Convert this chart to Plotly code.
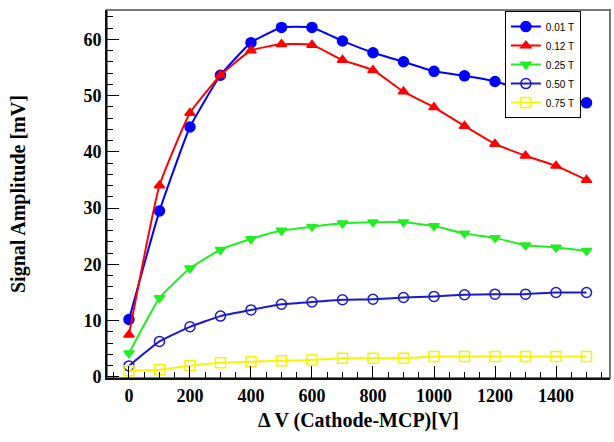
import plotly.graph_objects as go

voltage = [0, 100, 200, 300, 400, 500, 600, 700, 800, 900, 1000, 1100, 1200, 1300, 1400, 1500]
amp_001T = [10.2, 29.5, 44.4, 53.6, 59.4, 62.1, 62.1, 59.7, 57.6, 56.0, 54.3, 53.5, 52.5, 50.9, 49.5, 48.7]
amp_012T = [7.5, 34.0, 46.9, 53.6, 58.0, 59.1, 59.0, 56.3, 54.5, 50.7, 47.9, 44.6, 41.4, 39.3, 37.5, 35.0]
amp_025T = [4.2, 14.0, 19.3, 22.6, 24.5, 26.0, 26.7, 27.3, 27.5, 27.5, 26.8, 25.5, 24.7, 23.4, 23.0, 22.4]
amp_050T = [1.95, 6.3, 8.9, 10.8, 11.9, 12.9, 13.3, 13.7, 13.8, 14.1, 14.3, 14.6, 14.7, 14.7, 15.0, 15.0]
amp_075T = [1.1, 1.25, 2.0, 2.5, 2.7, 2.85, 3.0, 3.3, 3.3, 3.3, 3.6, 3.6, 3.6, 3.6, 3.6, 3.6]

series_names = ["0.01 T", "0.12 T", "0.25 T", "0.50 T", "0.75 T"]
series_values = [amp_001T, amp_012T, amp_025T, amp_050T, amp_075T]
series_colors = ["#0000ff", "#ff0000", "#22ee22", "#1a1acc", "#f5f500"]
series_symbols = ["circle", "triangle-up", "triangle-down", "circle-open", "square-open"]
series_sizes = [10, 9, 9, 10, 10]

fig = go.Figure()
for name, vals, col, sym, sz in zip(series_names, series_values, series_colors, series_symbols, series_sizes):
    fig.add_trace(go.Scatter(
        x=voltage, y=vals, name=name, mode="lines+markers",
        line=dict(color=col, width=2, shape="spline", smoothing=0.4),
        marker=dict(symbol=sym, size=sz, color=col, line=dict(color=col, width=1.5)),
    ))

tick_font = dict(family="Liberation Serif", size=18, color="black")

fig.update_layout(
    template="simple_white",
    width=614, height=442,
    margin=dict(l=107, r=4, t=10, b=64, pad=0, autoexpand=False),
    paper_bgcolor="white", plot_bgcolor="white",
    font=dict(family="Liberation Serif", color="black"),
    showlegend=True,
    legend=dict(
        x=0.791, y=0.997, xanchor="left", yanchor="top",
        bordercolor="black", borderwidth=1, bgcolor="white",
        font=dict(family="Liberation Sans", size=10, color="black"),
        tracegroupgap=0, itemwidth=30,
    ),
    xaxis=dict(
        automargin=False,
        range=[-72, 1577], tick0=0, dtick=200,
        ticks="inside", ticklen=12, tickwidth=1.2, tickcolor="black",
        minor=dict(dtick=50, ticks="inside", ticklen=6, tickwidth=1, tickcolor="black"),
        showline=True, linecolor="#111", linewidth=2, mirror=False,
        showgrid=False, zeroline=False,
        tickfont=tick_font, tickprefix="<b>", ticksuffix="</b>",
    ),
    yaxis=dict(
        automargin=False,
        range=[-0.2, 65.2], tick0=0, dtick=10,
        ticks="inside", ticklen=12, tickwidth=1.2, tickcolor="black",
        minor=dict(dtick=2, ticks="inside", ticklen=6, tickwidth=1, tickcolor="black"),
        showline=True, linecolor="#111", linewidth=2, mirror=False,
        showgrid=False, zeroline=False,
        tickfont=tick_font, tickprefix="<b>", ticksuffix="</b>",
    ),
    shapes=[
        dict(type="rect", xref="paper", yref="paper", x0=0, x1=1, y0=0, y1=1,
             line=dict(color="#777777", width=2), fillcolor="rgba(0,0,0,0)",
             opacity=1, layer="below"),
    ],
    annotations=[
        dict(text="<b>\u0394 V (Cathode-MCP)[V]</b>", xref="paper", yref="paper",
             x=0.5, y=0, xanchor="center", yanchor="middle", yshift=-42,
             showarrow=False, font=dict(family="Liberation Serif", size=20, color="black")),
        dict(text="<b>Signal Amplitude [mV]</b>", xref="paper", yref="paper",
             x=0, y=0.5, xanchor="center", yanchor="middle", xshift=-89, textangle=-90,
             showarrow=False, font=dict(family="Liberation Serif", size=20, color="black")),
    ],
)

fig.write_html("out.html", config={"displayModeBar": False},
               post_script="document.body.style.margin='0px';document.body.style.overflow='hidden';")
